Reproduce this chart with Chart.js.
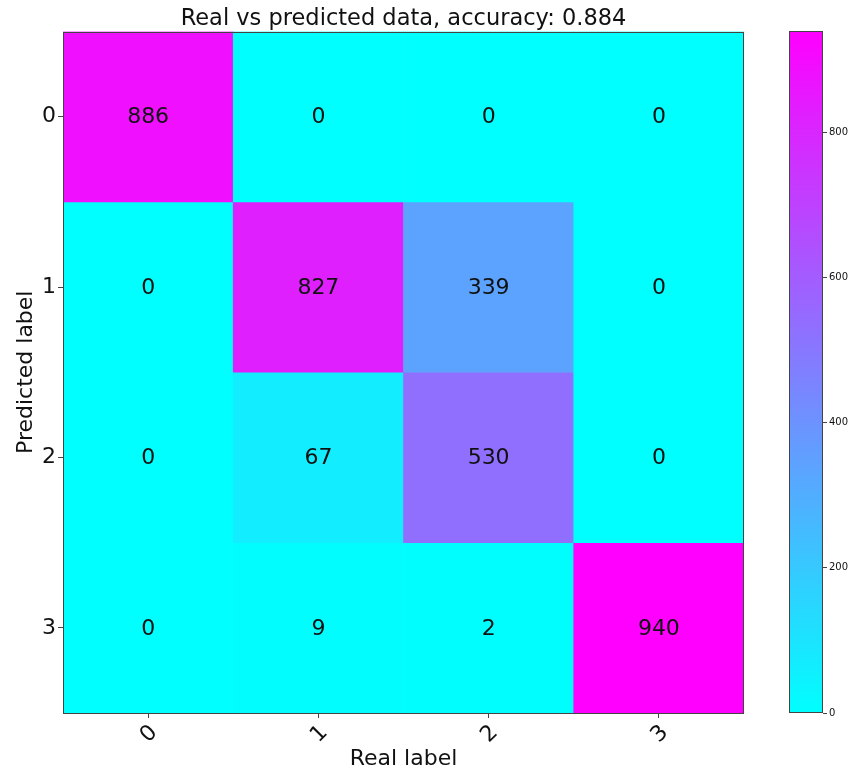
<!DOCTYPE html>
<html>
<head>
<meta charset="utf-8">
<script src="https://cdn.jsdelivr.net/npm/chart.js@4/dist/chart.umd.min.js"></script>
<style>
  html, body { margin: 0; padding: 0; background: #fff; }
  #wrap { position: relative; width: 848px; height: 769px; }
  #main { position: absolute; left: 0; top: 0; }
  #cbar { position: absolute; left: 770px; top: 0; }
</style>
</head>
<body>
<div id="wrap">
  <canvas id="main" width="848" height="769"></canvas>
  <canvas id="cbar" width="78" height="769"></canvas>
</div>
<script>
(function () {
    "use strict";

    // data
    const realLabels = ["0", "1", "2", "3"];
    const predLabels = ["0", "1", "2", "3"];
    const predRow0 = [886, 0, 0, 0];
    const predRow1 = [0, 827, 339, 0];
    const predRow2 = [0, 67, 530, 0];
    const predRow3 = [0, 9, 2, 940];
    const counts = [predRow0, predRow1, predRow2, predRow3];
    const colorbarTicks = [0, 200, 400, 600, 800];
    const titleText = "Real vs predicted data, accuracy: 0.884";

    const FONT = "'DejaVu Sans', 'Liberation Sans', sans-serif";
    const TEXT = "#111";
    const EDGE = "#444";

    const vmin = Math.min(...counts.flat());
    const vmax = Math.max(...counts.flat());

    // matplotlib "cool" colormap
    function coolColor(v) {
        const t = (v - vmin) / (vmax - vmin);
        const r = Math.round(255 * t);
        const g = Math.round(255 * (1 - t));
        return "rgb(" + r + "," + g + ",255)";
    }

    const frame = {
        id: "frame",
        afterDraw(chart) {
            const a = chart.chartArea;
            const ctx = chart.ctx;
            ctx.save();
            ctx.strokeStyle = EDGE;
            ctx.lineWidth = 1;
            ctx.strokeRect(Math.round(a.left) + 0.5, Math.round(a.top) + 0.5,
                Math.round(a.right - a.left) - 1, Math.round(a.bottom - a.top) - 1);
            ctx.restore();
        },
    };

    // center the title over the plot area, like matplotlib does
    const titleOverArea = {
        id: "titleOverArea",
        afterLayout(chart) {
            if (chart.titleBlock) {
                chart.titleBlock.left = chart.chartArea.left;
                chart.titleBlock.right = chart.chartArea.right;
            }
        },
    };

    const cellText = {
        id: "cellText",
        afterDatasetsDraw(chart) {
            const ctx = chart.ctx;
            ctx.save();
            ctx.font = "22px " + FONT;
            ctx.fillStyle = TEXT;
            ctx.textAlign = "center";
            ctx.textBaseline = "middle";
            chart.data.datasets.forEach((ds, di) => {
                const meta = chart.getDatasetMeta(di);
                meta.data.forEach((bar, ci) => {
                    const p = bar.getCenterPoint();
                    ctx.fillText(String(counts[di][ci]), p.x, p.y + 1);
                });
            });
            ctx.restore();
        },
    };

    // one floating-bar dataset per predicted row
    const datasets = predLabels.map((lab, r) => ({
        label: "Predicted " + lab,
        data: counts[r].map(() => [r - 0.5, r + 0.5]),
        backgroundColor: counts[r].map((v) => coolColor(v)),
        borderWidth: 0,
        barPercentage: 1,
        categoryPercentage: 1,
        grouped: false,
    }));

    new Chart(document.getElementById("main").getContext("2d"), {
        type: "bar",
        data: { labels: realLabels, datasets: datasets },
        options: {
            responsive: false,
            animation: false,
            layout: { padding: { left: 0, top: 0, right: 104, bottom: 0 } },
            plugins: {
                legend: { display: false },
                tooltip: { enabled: false },
                title: {
                    display: true,
                    text: titleText,
                    color: TEXT,
                    font: { family: FONT, size: 22.5, weight: "normal", lineHeight: 1 },
                    padding: { top: 8, bottom: 1 },
                },
            },
            scales: {
                x: {
                    type: "category",
                    offset: true,
                    grid: { offset: false, drawOnChartArea: false, tickLength: 5, color: EDGE },
                    border: { display: false },
                    ticks: {
                        color: TEXT,
                        font: { family: FONT, size: 22 },
                        minRotation: 45,
                        maxRotation: 45,
                        padding: 2,
                        labelOffset: 6,
                    },
                    title: {
                        display: true,
                        text: "Real label",
                        color: TEXT,
                        font: { family: FONT, size: 22, lineHeight: 0.9 },
                        padding: 0,
                    },
                    afterFit(scale) {
                        scale.height = 56;
                    },
                },
                y: {
                    type: "linear",
                    reverse: true,
                    min: -0.5,
                    max: 3.5,
                    grid: { drawOnChartArea: false, tickLength: 5, color: EDGE },
                    border: { display: false },
                    ticks: {
                        color: TEXT,
                        font: { family: FONT, size: 22 },
                        padding: 2,
                        callback: (v) => predLabels[v],
                    },
                    afterBuildTicks(scale) {
                        scale.ticks = predLabels.map((l, i) => ({ value: i }));
                    },
                    title: {
                        display: true,
                        text: "Predicted label",
                        color: TEXT,
                        font: { family: FONT, size: 22, lineHeight: 1.2 },
                        padding: { top: 13, bottom: 0 },
                    },
                    afterFit(scale) {
                        scale.width = 63;
                    },
                },
            },
        },
        plugins: [titleOverArea, cellText, frame],
    });

    // colorbar
    new Chart(document.getElementById("cbar").getContext("2d"), {
        type: "bar",
        data: {
            labels: ["count"],
            datasets: [
                {
                    data: [[vmin, vmax]],
                    borderWidth: 0,
                    barPercentage: 1,
                    categoryPercentage: 1,
                    backgroundColor: (c) => {
                        const a = c.chart.chartArea;
                        if (!a) return coolColor(vmax);
                        const g = c.chart.ctx.createLinearGradient(0, a.bottom, 0, a.top);
                        g.addColorStop(0, coolColor(vmin));
                        g.addColorStop(1, coolColor(vmax));
                        return g;
                    },
                },
            ],
        },
        options: {
            responsive: false,
            animation: false,
            layout: { padding: { left: 19, top: 31, right: 0, bottom: 56 } },
            plugins: { legend: { display: false }, tooltip: { enabled: false } },
            scales: {
                x: { display: false },
                y: {
                    position: "right",
                    min: vmin,
                    max: vmax,
                    grid: { drawOnChartArea: false, tickLength: 4, color: EDGE },
                    border: { display: false },
                    ticks: { color: TEXT, font: { family: FONT, size: 10 }, padding: 2 },
                    afterBuildTicks(scale) {
                        scale.ticks = colorbarTicks.map((v) => ({ value: v }));
                    },
                    afterFit(scale) {
                        scale.width = 25;
                    },
                },
            },
        },
        plugins: [frame],
    });
})();
</script>
</body>
</html>
